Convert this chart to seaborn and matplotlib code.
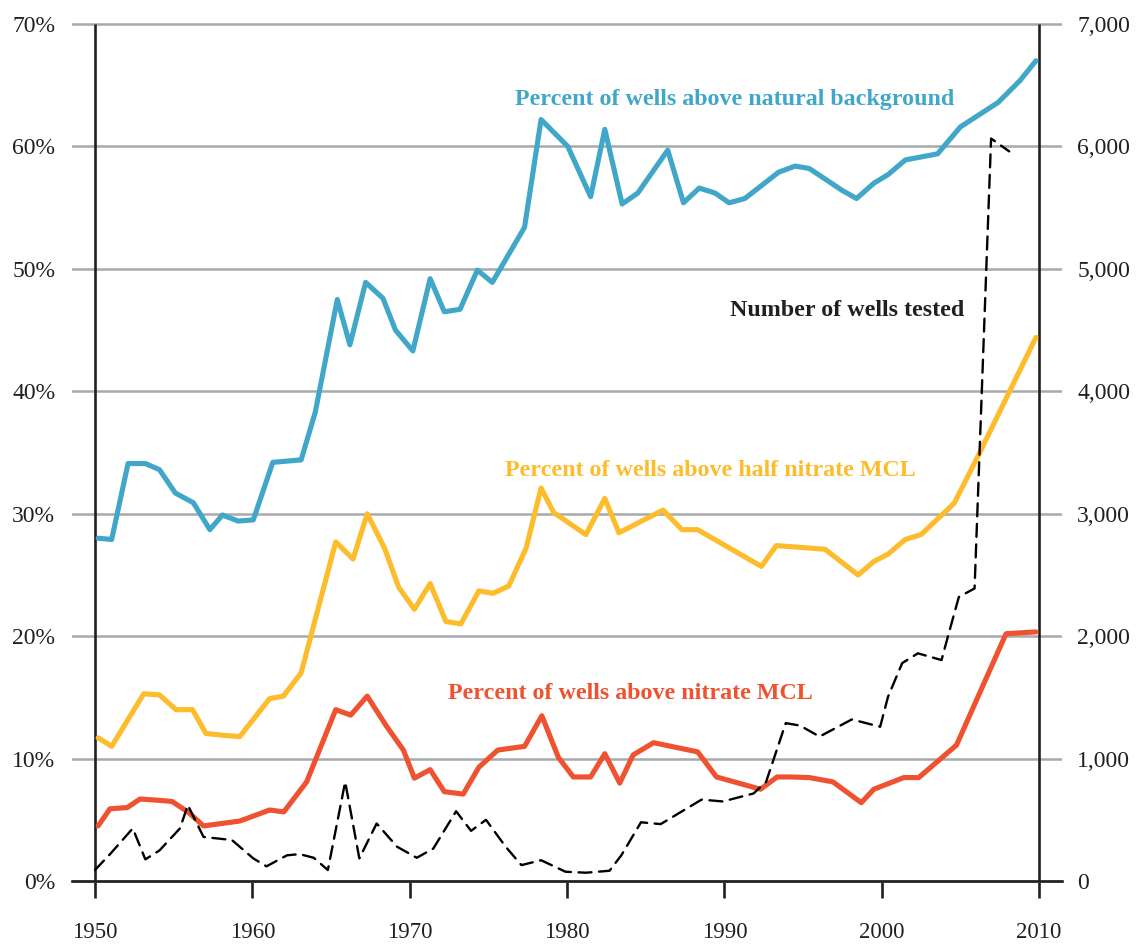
import matplotlib
matplotlib.use("Agg")
import matplotlib.pyplot as plt
import matplotlib.ticker as mticker
import numpy as np
import pandas as pd
import seaborn as sns

# Percent of wells above natural background
bg_year = [1950.2, 1951.06, 1952.1, 1953.2, 1954.1, 1955.1, 1956.25, 1957.3, 1958.1, 1959.1,
           1960.06, 1961.3, 1963.1, 1964.0, 1965.4, 1966.2, 1967.2, 1968.3, 1969.1, 1970.2,
           1971.3, 1972.2, 1973.2, 1974.3, 1975.25, 1977.3, 1978.35, 1980.05, 1981.5, 1982.4,
           1983.5, 1984.5, 1986.4, 1987.4, 1988.4, 1989.4, 1990.3, 1991.3, 1993.45, 1994.5,
           1995.4, 1997.5, 1998.4, 1999.5, 2000.4, 2001.5, 2003.55, 2005.0, 2007.4, 2008.8,
           2009.8]
bg_pct = [28.0, 27.9, 34.1, 34.1, 33.6, 31.7, 30.9, 28.7, 29.9, 29.4,
          29.5, 34.2, 34.4, 38.3, 47.5, 43.8, 48.9, 47.6, 45.0, 43.3,
          49.2, 46.5, 46.7, 49.9, 48.9, 53.4, 62.2, 60.0, 55.9, 61.4,
          55.3, 56.2, 59.7, 55.4, 56.6, 56.2, 55.4, 55.75, 57.9, 58.4,
          58.2, 56.4, 55.75, 57.0, 57.7, 58.9, 59.4, 61.6, 63.6, 65.4,
          67.0]

# Percent of wells above half nitrate MCL
half_year = [1950.2, 1951.06, 1953.1, 1954.1, 1955.15, 1956.2, 1957.05, 1958.2, 1959.2, 1961.1,
             1961.97, 1963.1, 1965.3, 1966.4, 1967.3, 1968.4, 1969.3, 1970.3, 1971.3, 1972.3,
             1973.25, 1974.4, 1975.3, 1976.3, 1977.4, 1978.35, 1979.15, 1981.2, 1982.4, 1983.3,
             1986.1, 1987.3, 1988.3, 1992.35, 1993.3, 1996.4, 1998.5, 1999.5, 2000.4, 2001.5,
             2002.5, 2004.6, 2006.0, 2009.8]
half_pct = [11.7, 11.0, 15.3, 15.2, 14.0, 14.0, 12.05, 11.9, 11.8, 14.9,
            15.1, 17.0, 27.7, 26.3, 30.0, 27.2, 24.0, 22.2, 24.3, 21.2,
            21.0, 23.7, 23.5, 24.1, 27.2, 32.1, 30.1, 28.3, 31.25, 28.45,
            30.3, 28.7, 28.7, 25.7, 27.4, 27.1, 25.0, 26.1, 26.7, 27.9,
            28.3, 30.85, 34.4, 44.4]

# Percent of wells above nitrate MCL
mcl_year = [1950.2, 1950.95, 1952.05, 1952.86, 1954.0, 1954.9, 1955.9, 1956.9, 1959.2, 1961.1,
            1962.0, 1963.45, 1965.3, 1966.25, 1967.3, 1968.5, 1969.6, 1970.3, 1971.3, 1972.2,
            1973.4, 1974.4, 1975.6, 1977.3, 1978.4, 1979.45, 1980.4, 1981.5, 1982.4, 1983.35,
            1984.2, 1985.5, 1988.3, 1989.5, 1992.3, 1993.35, 1994.25, 1995.4, 1996.9, 1998.7,
            1999.5, 2001.4, 2002.35, 2004.75, 2007.9, 2009.8]
mcl_pct = [4.5, 5.9, 6.0, 6.7, 6.6, 6.5, 5.65, 4.5, 4.9, 5.8,
           5.65, 8.1, 14.0, 13.55, 15.1, 12.7, 10.7, 8.4, 9.1, 7.3,
           7.1, 9.3, 10.7, 11.0, 13.5, 10.1, 8.5, 8.5, 10.4, 8.0,
           10.3, 11.3, 10.55, 8.5, 7.5, 8.5, 8.5, 8.45, 8.1, 6.4,
           7.5, 8.45, 8.45, 11.1, 20.2, 20.35]

# Number of wells tested (right axis)
wells_year = [1950.0, 1951.0, 1952.4, 1953.2, 1954.1, 1955.4, 1955.9, 1956.9, 1958.7, 1960.06,
              1960.9, 1962.2, 1963.0, 1963.9, 1964.8, 1965.9, 1966.8, 1967.9, 1969.2, 1970.45,
              1971.5, 1972.95, 1973.9, 1974.85, 1976.1, 1977.1, 1978.35, 1979.9, 1981.2, 1982.7,
              1983.45, 1984.7, 1985.95, 1988.55, 1989.9, 1991.85, 1992.65, 1993.9, 1994.8, 1996.05,
              1998.1, 1999.9, 2000.4, 2001.3, 2002.3, 2003.8, 2004.2, 2004.9, 2005.9, 2006.95,
              2008.1]
wells_count = [90, 226, 430, 177, 250, 430, 620, 360, 335, 185,
               120, 210, 220, 190, 90, 810, 185, 470, 280, 190,
               265, 570, 410, 500, 280, 130, 170, 76, 68, 84,
               210, 480, 465, 665, 650, 715, 810, 1290, 1270, 1180,
               1320, 1260, 1505, 1780, 1860, 1805, 1995, 2320, 2390, 6065,
               5960]

pct_ticks = [0, 10, 20, 30, 40, 50, 60, 70]
year_ticks = [1950, 1960, 1970, 1980, 1990, 2000, 2010]
wells_ticks = [0, 1000, 2000, 3000, 4000, 5000, 6000, 7000]

BLUE = "#41a7c9"
YELLOW = "#fdbc2b"
RED = "#ef5230"
INK = "#231f20"
GRID = "#a7a9ac"

sns.set_style("white")
plt.rcParams["font.family"] = ["Liberation Serif", "DejaVu Serif"]

fig = plt.figure(figsize=(11.36, 9.44), dpi=100)
ax = fig.add_axes((0.0634, 0.0466, 0.8715, 0.9322))
ax.set_xlim(1948.54, 2011.46)
ax.set_ylim(-1.55, 70.33)

ax2 = ax.twinx()
ax2.set_ylim(-155, 7033)

# gridlines
ax.set_yticks(pct_ticks)
ax.yaxis.grid(True, color=GRID, linewidth=1.8)
ax.set_axisbelow(True)

lw = 3.7
sns.lineplot(x=bg_year, y=bg_pct, ax=ax, color=BLUE, linewidth=lw, sort=False, estimator=None)
sns.lineplot(x=half_year, y=half_pct, ax=ax, color=YELLOW, linewidth=lw, sort=False, estimator=None)
sns.lineplot(x=mcl_year, y=mcl_pct, ax=ax, color=RED, linewidth=lw, sort=False, estimator=None)
sns.lineplot(x=wells_year, y=wells_count, ax=ax2, color="black", linewidth=1.7,
             sort=False, estimator=None, dashes=False, linestyle=(0, (5.5, 3.2)),
             dash_capstyle="round")

# vertical axis lines at the ends of the year range
ax.vlines([year_ticks[0], year_ticks[-1]], pct_ticks[0], pct_ticks[-1], color=INK, linewidth=1.9, zorder=1.5)

for s in ["top", "left", "right"]:
    ax.spines[s].set_visible(False)
    ax2.spines[s].set_visible(False)
ax2.spines["bottom"].set_visible(False)
ax.spines["bottom"].set_position(("data", 0))
ax.spines["bottom"].set_color(INK)
ax.spines["bottom"].set_linewidth(1.9)

ax.set_xticks(year_ticks)
ax.tick_params(axis="x", direction="out", length=12.5, width=1.9, color=INK,
               labelsize=16.5, labelcolor=INK, pad=17, bottom=True)
ax.tick_params(axis="y", length=0, labelsize=17, labelcolor=INK, pad=12)
ax.yaxis.set_major_formatter(mticker.FuncFormatter(lambda v, p: f"{int(v)}%"))

ax2.set_yticks(wells_ticks)
ax2.tick_params(axis="y", length=0, labelsize=17, labelcolor=INK, pad=11)
ax2.yaxis.set_major_formatter(mticker.FuncFormatter(lambda v, p: f"{int(v):,}"))

ax.set_xlabel("")
ax.set_ylabel("")
ax2.set_ylabel("")

fs = 17.3
ax.text(1990.68, 63.8, "Percent of wells above natural background", color=BLUE,
        fontsize=fs, fontweight="bold", ha="center", va="center")
ax.text(1997.8, 46.6, "Number of wells tested", color=INK,
        fontsize=fs, fontweight="bold", ha="center", va="center")
ax.text(1989.1, 33.5, "Percent of wells above half nitrate MCL", color=YELLOW,
        fontsize=fs, fontweight="bold", ha="center", va="center")
ax.text(1984.0, 15.3, "Percent of wells above nitrate MCL", color=RED,
        fontsize=fs, fontweight="bold", ha="center", va="center")

fig.savefig("out.png", dpi=100)
